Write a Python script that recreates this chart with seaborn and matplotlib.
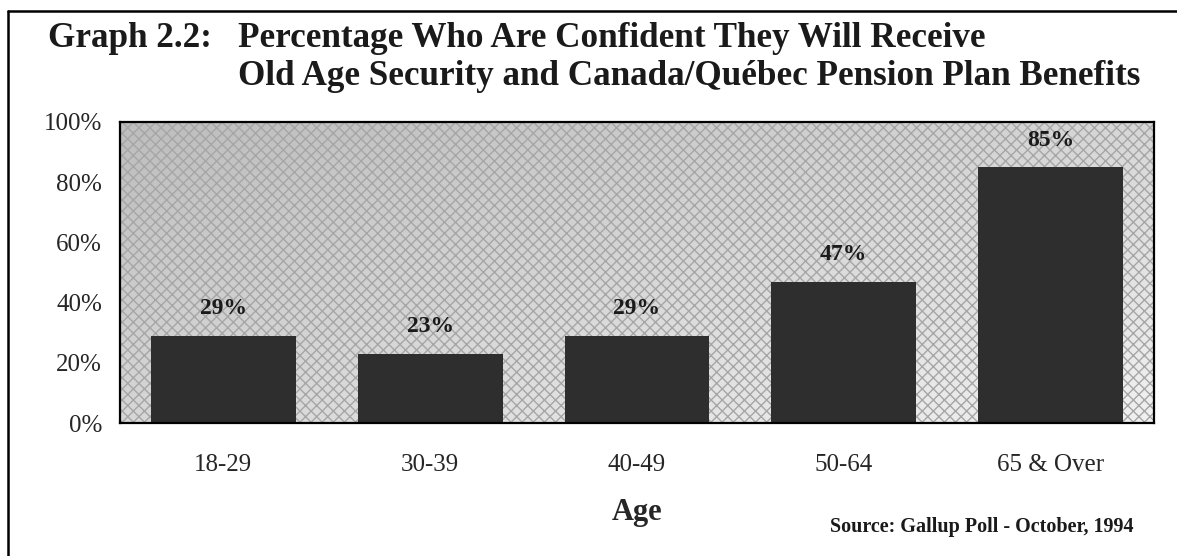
import matplotlib
matplotlib.use("Agg")
import matplotlib.pyplot as plt
from matplotlib.lines import Line2D
from matplotlib.patches import Rectangle
from matplotlib.ticker import FixedLocator
import numpy as np
import seaborn as sns
import pandas as pd

# Survey results by age group
age_groups = ["18-29", "30-39", "40-49", "50-64", "65 & Over"]
confident_pct = [29, 23, 29, 47, 85]
y_ticks = [0, 20, 40, 60, 80, 100]
y_tick_labels = ["0%", "20%", "40%", "60%", "80%", "100%"]

df = pd.DataFrame({"Age": age_groups, "Confident": confident_pct})

sns.set_theme(style="white")
plt.rcParams["font.family"] = ["Liberation Serif", "DejaVu Serif"]

W, H = 1177, 556
fig = plt.figure(figsize=(W / 100, H / 100), dpi=100)
fig.patch.set_facecolor("white")
ax = fig.add_axes([120 / W, 1 - 423 / H, (1154 - 120) / W, 301 / H])

# Shaded plot background: darker toward the upper left, with a fine cross-hatch
gx, gy = np.meshgrid(np.linspace(0, 1, 200), np.linspace(0, 1, 100))
shade = 0.74 + 0.10 * gx + 0.10 * gy
ax.imshow(shade, cmap="gray", vmin=0, vmax=1, aspect="auto",
          extent=(-0.5, len(age_groups) - 0.5, 0, 100), origin="upper", zorder=0)
ax.add_patch(Rectangle((-0.5, 0), len(age_groups), 100, facecolor="none",
                       edgecolor="#a6a6a6", hatch="xxx", linewidth=0, zorder=1))

sns.barplot(data=df, x="Age", y="Confident", color="#2e2e2e", saturation=1,
            width=0.70, ax=ax, zorder=3)
for patch in ax.patches:
    if patch.get_zorder() == 3:
        patch.set_edgecolor("none")

ax.set_xlim(-0.5, len(age_groups) - 0.5)
ax.set_ylim(0, 100)
ax.set_yticks(y_ticks)
ax.set_yticklabels(y_tick_labels, fontsize=18)
ax.tick_params(axis="y", direction="inout", length=14, width=1.4, color="black", pad=6)

ax.set_xticks(range(len(age_groups)))
ax.set_xticklabels(age_groups, fontsize=18)
ax.xaxis.set_minor_locator(FixedLocator([i - 0.5 for i in range(len(age_groups) + 1)]))
ax.tick_params(axis="x", which="major", length=0, pad=22)
ax.tick_params(axis="x", which="minor", direction="inout", length=14, width=1.2, color="black")

for spine in ax.spines.values():
    spine.set_visible(True)
    spine.set_color("black")
    spine.set_linewidth(1.6)
    spine.set_zorder(5)

ax.set_xlabel("Age", fontsize=22, fontweight="bold", labelpad=16)
ax.set_ylabel("")

for i, v in enumerate(confident_pct):
    ax.text(i, v + 9, f"{v}%", ha="center", va="center", fontsize=17,
            fontweight="bold", color="#1a1a1a", zorder=4)

# Titles
title_kw = dict(fontsize=25.3, fontweight="bold", va="baseline", color="#1a1a1a")
fig.text(48 / W, 1 - 47 / H, "Graph 2.2:", ha="left", **title_kw)
fig.text(238 / W, 1 - 47 / H, "Percentage Who Are Confident They Will Receive",
         ha="left", **title_kw)
fig.text(238 / W, 1 - 85 / H,
         "Old Age Security and Canada/Québec Pension Plan Benefits",
         ha="left", **title_kw)

fig.text(1133 / W, 1 - 527 / H, "Source: Gallup Poll - October, 1994",
         fontsize=14.5, fontweight="bold", ha="right", va="center", color="#1a1a1a")

# Frame around the figure (left and top edges)
fig.add_artist(Line2D([8 / W, 8 / W], [0, 1 - 11 / H],
                      transform=fig.transFigure, color="black", lw=1.8))
fig.add_artist(Line2D([8 / W, 1], [1 - 11 / H, 1 - 11 / H],
                      transform=fig.transFigure, color="black", lw=1.8))

fig.savefig("out.png", dpi=100)
